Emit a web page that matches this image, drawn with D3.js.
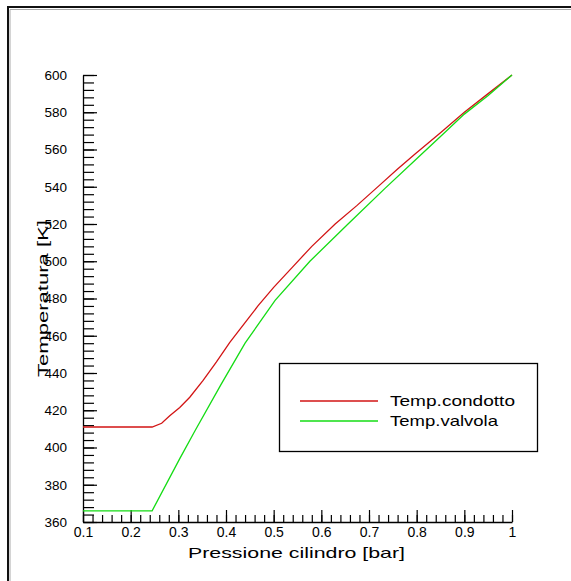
<!DOCTYPE html>
<html>
<head>
<meta charset="utf-8">
<script src="https://cdn.jsdelivr.net/npm/d3@7"></script>
<style>
  body { margin: 0; background: #fff; }
  svg { display: block; font-family: "Liberation Sans", Arial, sans-serif; }
</style>
</head>
<body>
<svg id="chart"></svg>
<script>
// Temperatura vs pressione cilindro
var pCondotto = [0.1, 0.245, 0.265, 0.282, 0.303, 0.324, 0.352, 0.38, 0.408, 0.44, 0.467, 0.50, 0.54, 0.58, 0.629, 0.675, 0.723, 0.76, 0.796, 0.85, 0.90, 0.95, 1.0];
var tCondotto = [411, 411, 413, 417, 421.5, 427, 436, 446, 456.5, 467, 476, 486, 497, 508, 520, 530, 541, 549.5, 557.5, 569, 580, 590, 600];

var pValvola = [0.1, 0.245, 0.303, 0.335, 0.39, 0.44, 0.503, 0.576, 0.656, 0.733, 0.80, 0.85, 0.90, 0.95, 1.0];
var tValvola = [366, 366, 394, 409, 434, 456, 479, 500, 520, 539, 555, 567, 579, 589, 600];

var xTicks = [0.1, 0.2, 0.3, 0.4, 0.5, 0.6, 0.7, 0.8, 0.9, 1];
var yTicks = [360, 380, 400, 420, 440, 460, 480, 500, 520, 540, 560, 580, 600];
var seriesNames = ["Temp.condotto", "Temp.valvola"];
var seriesColors = ["#d21414", "#14dc14"];

var W = 571, H = 581;
var svg = d3.select("#chart").attr("width", W).attr("height", H);

// outer frame (only top/left visible)
svg.append("rect").attr("x", 8).attr("y", 7).attr("width", 700).attr("height", 700)
  .attr("fill", "none").attr("stroke", "#111").attr("stroke-width", 2);
svg.append("path").attr("d", "M10,700V9.5H700")
  .attr("fill", "none").attr("stroke", "#aaa").attr("stroke-width", 1);

var x = d3.scaleLinear().domain([0.1, 1]).range([83, 512]);
var y = d3.scaleLinear().domain([360, 600]).range([522, 75]);

// minor ticks
svg.append("g").attr("transform", "translate(0,522)")
  .call(d3.axisBottom(x).tickValues(d3.range(0.1, 1.001, 0.02)).tickSize(-7).tickSizeOuter(0).tickFormat(""))
  .call(function(g) { g.select(".domain").remove(); });
svg.append("g").attr("transform", "translate(83,0)")
  .call(d3.axisLeft(y).tickValues(d3.range(360, 601, 4)).tickSize(-11).tickSizeOuter(0).tickFormat(""))
  .call(function(g) { g.select(".domain").remove(); });

// major axes
var xAxis = svg.append("g").attr("transform", "translate(0,522)")
  .call(d3.axisBottom(x).tickValues(xTicks).tickSize(-12).tickSizeOuter(0).tickPadding(5)
    .tickFormat(function(d) { return d === 1 ? "1" : d3.format(".1f")(d); }));
xAxis.selectAll("text").attr("font-size", 14).attr("fill", "#000").attr("font-family", null);

var yAxis = svg.append("g").attr("transform", "translate(83,0)")
  .call(d3.axisLeft(y).tickValues(yTicks).tickSize(-14).tickSizeOuter(0).tickPadding(16));
yAxis.selectAll("text").attr("font-size", 13.5).attr("fill", "#000").attr("font-family", null);

svg.selectAll(".tick line").attr("stroke", "#000").attr("stroke-width", 1.2);
svg.selectAll(".domain").attr("stroke", "#000").attr("stroke-width", 1.3);

// axis titles
svg.append("text").attr("x", 296.5).attr("y", 558).attr("text-anchor", "middle")
  .attr("font-size", 15).attr("textLength", 217).attr("lengthAdjust", "spacingAndGlyphs")
  .text("Pressione cilindro [bar]");
svg.append("text").attr("transform", "translate(48,298.5) rotate(-90)").attr("text-anchor", "middle")
  .attr("font-size", 15).attr("textLength", 157).attr("lengthAdjust", "spacingAndGlyphs")
  .text("Temperatura [K]");

// lines
var line = d3.line().x(function(d) { return x(d[0]); }).y(function(d) { return y(d[1]); });
var series = [d3.zip(pCondotto, tCondotto), d3.zip(pValvola, tValvola)];

svg.selectAll(".serie").data(series).enter().append("path")
  .attr("class", "serie")
  .attr("d", line)
  .attr("fill", "none")
  .attr("stroke", function(d, i) { return seriesColors[i]; })
  .attr("stroke-width", 1.3);

// legend
var leg = svg.append("g");
leg.append("rect").attr("x", 279.5).attr("y", 363.5).attr("width", 258).attr("height", 88)
  .attr("fill", "#fff").attr("stroke", "#000").attr("stroke-width", 1.3);
var legLen = [125, 108];
seriesNames.forEach(function(name, i) {
  var ly = 401 + i * 20;
  leg.append("line").attr("x1", 300).attr("x2", 378).attr("y1", ly).attr("y2", ly)
    .attr("stroke", seriesColors[i]).attr("stroke-width", 1.5);
  leg.append("text").attr("x", 390).attr("y", ly + 4.5).attr("font-size", 15)
    .attr("textLength", legLen[i]).attr("lengthAdjust", "spacingAndGlyphs")
    .text(name);
});
</script>
</body>
</html>
